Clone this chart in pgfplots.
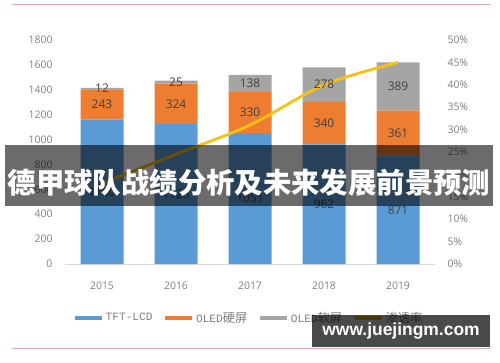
\documentclass[border=0pt]{standalone}
\usepackage{pgfplots}
\usepackage{pgfplotstable}
\pgfplotsset{compat=1.18}
\usepackage{fontspec}
\setmainfont{Open Sans}
\newfontfamily\cjk{Noto Sans CJK SC}
\newfontfamily\wm{Liberation Sans}
\newfontfamily\lgmono{Liberation Mono}
\definecolor{cblue}{HTML}{5B9BD5}
\definecolor{corange}{HTML}{ED7D31}
\definecolor{cgray}{HTML}{A5A5A5}
\definecolor{cgold}{HTML}{F5C211}
\definecolor{ctick}{HTML}{7F7F7F}
\definecolor{clabel}{HTML}{404040}
\definecolor{cpink}{HTML}{DDA5B5}
\pgfplotstableread{
x lcd hard soft
0 1160 243 12
1 1125 324 25
2 1051 330 138
3 962 340 278
4 871 361 389
}\bars
\pgfplotstableread{
x rate
0 18
1 24.5
2 31
3 40
4 45
}\rate
\newcommand{\lcj}[1]{{\cjk\fontsize{12.3}{13}\selectfont #1}}
\begin{document}
\begin{tikzpicture}[x=1bp,y=1bp]
\useasboundingbox (0,0) rectangle (500,362);
\pgfplotsset{geom/.style={at={(65bp,98bp)}, anchor=south west, scale only axis,
  width=370bp, height=224bp, xmin=-0.5, xmax=4.5}}
\begin{axis}[
  geom, ymin=0, ymax=1800,
  ybar stacked, bar width=43bp,
  axis x line*=bottom, axis y line*=left,
  y axis line style={draw=none},
  x axis line style={draw=black!15, line width=0.8bp},
  xtick={0,1,2,3,4}, xticklabels={2015,2016,2017,2018,2019},
  ytick={0,200,...,1800},
  major tick length=0pt,
  /pgf/number format/assume math mode=true,
  /pgf/number format/1000 sep={},
  tick label style={font=\fontsize{10.5}{12}\selectfont, text=ctick},
  yticklabel style={xshift=-9bp},
  xticklabel style={yshift=-14bp},
]
\addplot[fill=cblue, draw=none] table[x=x, y=lcd] {\bars};
\addplot[fill=corange, draw=none] table[x=x, y=hard] {\bars};
\addplot[fill=cgray, draw=none] table[x=x, y=soft] {\bars};
\end{axis}
\begin{axis}[
  geom, ymin=0, ymax=50,
  axis x line=none, axis y line*=right,
  y axis line style={draw=none},
  ytick={0,5,...,50},
  yticklabel={\pgfmathprintnumber{\tick}\%},
  major tick length=0pt,
  /pgf/number format/assume math mode=true,
  tick label style={font=\fontsize{10.5}{12}\selectfont, text=ctick},
  yticklabel style={xshift=9bp},
  legend style={at={(0.0216,-0.241)}, anchor=west, draw=none, fill=none,
    inner sep=0pt, font=\lgmono\fontsize{11.2}{13}\selectfont, text=ctick,
    nodes={inner sep=1bp},
    /tikz/every odd column/.append style={column sep=1bp},
    /tikz/every even column/.append style={column sep=10bp}},
  legend columns=4,
  legend image code/.code={\draw[#1, line width=3.5bp] (0bp,0bp) -- (27bp,0bp);},
]
\addlegendimage{cblue}
\addlegendentry{TFT-LCD}
\addlegendimage{corange}
\addlegendentry{OLED\lcj{硬屏}}
\addlegendimage{cgray}
\addlegendentry{OLED\lcj{软屏}}
\addplot[cgold, line width=2.8bp, smooth, mark=none] table[x=x, y=rate] {\rate};
\addlegendentry{\lcj{渗透率}}
\end{axis}
\begin{axis}[
  geom, ymin=0, ymax=1800, axis lines=none,
  /pgf/number format/assume math mode=true,
  /pgf/number format/1000 sep={},
  nodes near coords, point meta=explicit,
  every node near coord/.append style={anchor=center,
     font=\fontsize{12}{14}\selectfont, text=clabel},
]
\addplot[draw=none, mark=none, nodes near coords] table[x=x, y expr={\thisrow{lcd}/2}, meta=lcd] {\bars};
\addplot[draw=none, mark=none, nodes near coords] table[x=x, y expr={\thisrow{lcd}+\thisrow{hard}/2}, meta=hard] {\bars};
\addplot[draw=none, mark=none, nodes near coords] table[x=x, y expr={\thisrow{lcd}+\thisrow{hard}+\thisrow{soft}/2}, meta=soft] {\bars};
\end{axis}
\draw[cpink, line width=1.2bp] (12,357.7) -- (490,357.7);
\draw[cpink, line width=1.2bp] (12,13.7) -- (490,13.7);
\fill[black, opacity=0.58] (5,156) rectangle (493,217);
\node[text=white, font=\cjk\bfseries\fontsize{28.5}{30}\selectfont, inner sep=0pt] at (249,179) {德甲球队战绩分析及未来发展前景预测};
\fill[black, opacity=0.71] (312,15) rectangle (490,47);
\node[text=white, font=\wm\bfseries\fontsize{17.5}{20}\selectfont, inner sep=0pt] at (401,31) {www.juejingm.com};
\end{tikzpicture}
\end{document}
